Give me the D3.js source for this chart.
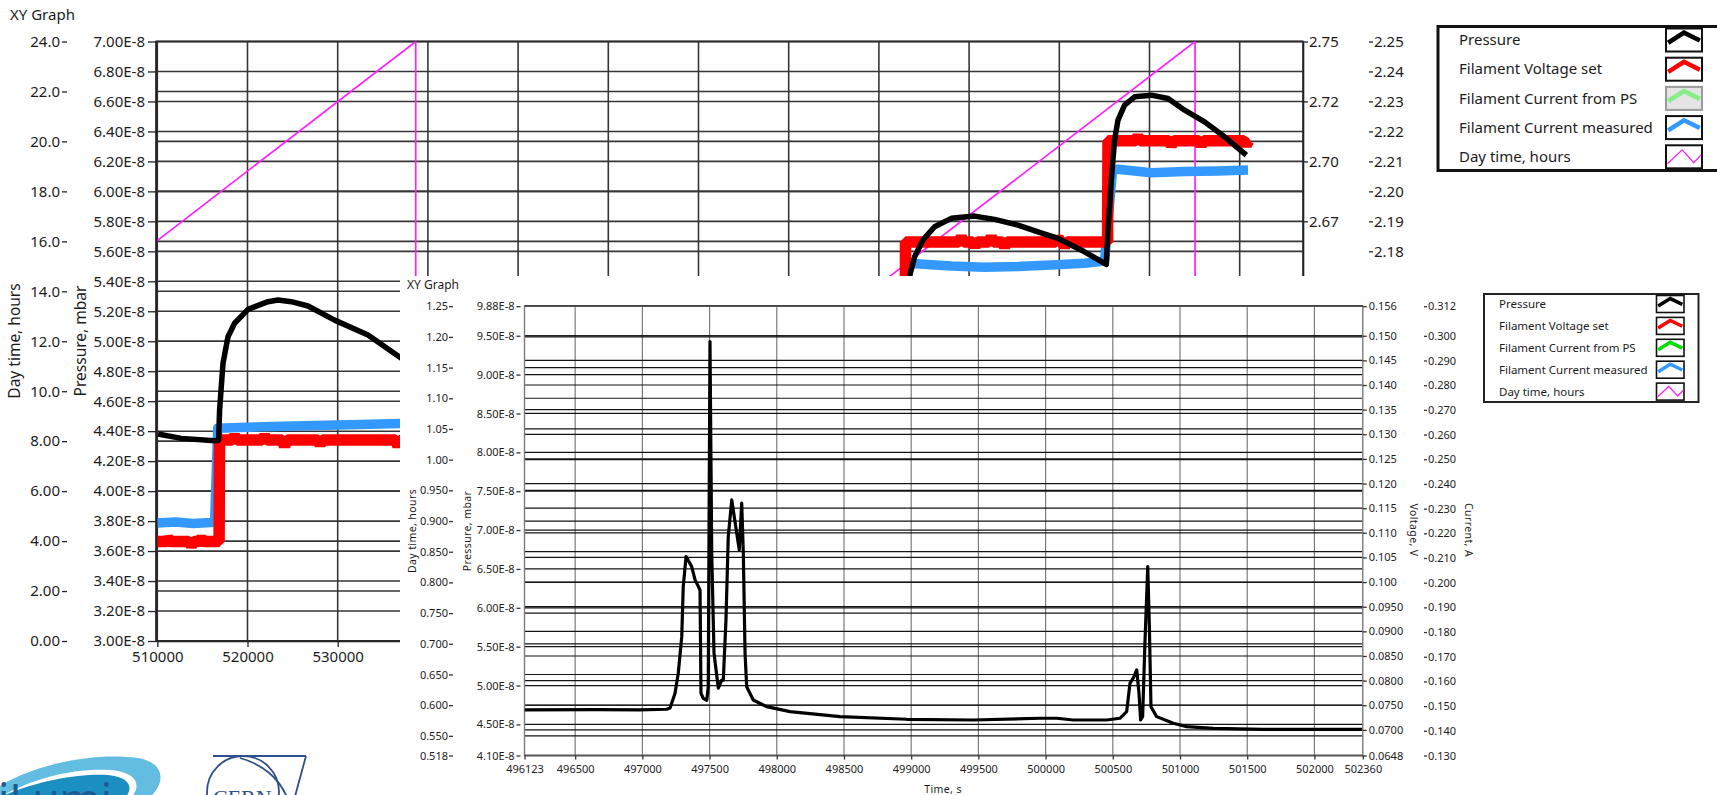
<!DOCTYPE html>
<html><head><meta charset="utf-8">
<script src="https://cdn.jsdelivr.net/npm/d3@7"></script>
<style>
html,body{margin:0;padding:0;background:#fff;overflow:hidden;}
svg{display:block;}
</style></head><body>
<svg id="c" width="1717" height="795"></svg>
<script>
// ================= DATA: top (background) XY Graph =================
const topPressureT = [510078,512661,516353,516796,516907,517284,517838,518570,520055,522273,523381,524856,526707,529656,533359,537051,560000,592950,593404,593958,594889,596175,598027,600610,602827,605421,607639,609856,612805,615211,615399,615765,616131,616508,617239,618348,620200,622051,623891,626109,628326,630732];
const topPressureV = [4.381,4.352,4.336,4.34,4.541,4.853,5.03,5.12,5.213,5.264,5.275,5.264,5.235,5.141,5.041,4.886,4.65,4.60,5.435,5.564,5.676,5.764,5.82,5.835,5.813,5.775,5.73,5.686,5.597,5.513,5.742,6.075,6.342,6.476,6.576,6.631,6.642,6.62,6.542,6.464,6.364,6.242]; // x1e-8 mbar
const topVoltageT = [510000,511000,511200,511500,513500,513770,514050,514600,514878,515150,516850,
  516900,518300,518570,518840,521630,521900,522170,523850,524114,524380,527800,528050,528300,536420,536685,536950,592900,
  592950,598860,599135,599410,600400,600650,600900,602200,602461,602720,603680,603936,604200,609600,609856,610110,610330,610588,610850,615350,
  615400,618450,618718,618990,622150,622412,622680,625480,625738,626000,630470,630732,630990];
const topVoltageV = [2.5415,2.5415,2.5428,2.5415,2.5415,2.5397,2.5415,2.5415,2.5428,2.5415,2.5415,
  2.5838,2.5838,2.5855,2.5838,2.5838,2.5855,2.5838,2.5838,2.5812,2.5838,2.5838,2.5818,2.5838,2.5838,2.5812,2.5838,2.5838,
  2.6664,2.6664,2.6685,2.6664,2.6664,2.6645,2.6664,2.6664,2.6685,2.6664,2.6664,2.6645,2.6664,2.6664,2.6683,2.6664,2.6664,2.6645,2.6664,2.6664,
  2.7086,2.7086,2.7105,2.7086,2.7086,2.7066,2.7086,2.7086,2.7066,2.7086,2.7086,2.7068,2.7086];
const topCurrentT = [510000,512000,514000,516350,516700,520000,525000,530000,537000,593100,593219,598027,601722,605421,609113,612805,615022,615900,616508,620200,623891,627594,630920];
const topCurrentV = [2.0894,2.0897,2.0892,2.0896,2.121,2.1213,2.1217,2.1221,2.1226,2.1226,2.176,2.1751,2.1747,2.1749,2.1754,2.176,2.1768,2.2069,2.2074,2.2062,2.2066,2.2068,2.2071];
const topDayT = [510000,538650,538651,625050,625051,631000];
const topDayV = [16.03,24,0,24,0,1.65];

const topXTicks = [510000,520000,530000,540000,550000,560000,570000,580000,590000,600000,610000,620000,630000];
const topDayTicks = [0,2,4,6,8,10,12,14,16,18,20,22,24];
const topDayLabels = ["0.00","2.00","4.00","6.00","8.00","10.0","12.0","14.0","16.0","18.0","20.0","22.0","24.0"];
const topPressTicks = [3.0,3.2,3.4,3.6,3.8,4.0,4.2,4.4,4.6,4.8,5.0,5.2,5.4,5.6,5.8,6.0,6.2,6.4,6.6,6.8,7.0];
const topPressLabels = ["3.00E-8","3.20E-8","3.40E-8","3.60E-8","3.80E-8","4.00E-8","4.20E-8","4.40E-8","4.60E-8","4.80E-8","5.00E-8","5.20E-8","5.40E-8","5.60E-8","5.80E-8","6.00E-8","6.20E-8","6.40E-8","6.60E-8","6.80E-8","7.00E-8"];
const topVoltTicks = [2.5,2.525,2.55,2.575,2.6,2.625,2.65,2.675,2.7,2.725,2.75];
const topVoltLabels = ["2.50","2.52","2.55","2.57","2.60","2.62","2.65","2.67","2.70","2.72","2.75"];
const topCurTicks = [2.05,2.06,2.07,2.08,2.09,2.10,2.11,2.12,2.13,2.14,2.15,2.16,2.17,2.18,2.19,2.20,2.21,2.22,2.23,2.24,2.25];
const topCurLabels = ["2.05","2.06","2.07","2.08","2.09","2.10","2.11","2.12","2.13","2.14","2.15","2.16","2.17","2.18","2.19","2.20","2.21","2.22","2.23","2.24","2.25"];

// ================= DATA: bottom (front) XY Graph =================
const botPressureT = [496123,496662,496982,497181,497206,497243,497267,497293,497304,497325,497367,497392,497429,497436,497453,497479,497490,497503,497516,497533,497565,497590,497602,497622,497639,497665,497702,497721,497739,497751,497764,497776,497825,497925,498098,498470,498967,499462,499958,500083,500206,500454,500553,500603,500628,500652,500678,500695,500707,500722,500739,500760,500772,500784,500826,500950,501050,501248,501620,502190,502354];
const botPressureV = [4.686,4.69,4.686,4.695,4.71,4.90,5.158,5.629,6.272,6.659,6.53,6.359,6.23,4.90,4.836,4.81,4.98,9.426,6.70,5.415,4.965,5.07,5.07,5.844,6.916,7.388,6.96,6.745,7.346,6.70,5.415,4.985,4.814,4.728,4.664,4.60,4.566,4.557,4.579,4.579,4.557,4.557,4.579,4.664,5.03,5.094,5.20,4.90,4.557,4.60,5.544,6.53,5.758,4.728,4.60,4.514,4.471,4.45,4.437,4.437,4.435];

const botXTicks = [496123,496500,497000,497500,498000,498500,499000,499500,500000,500500,501000,501500,502000,502360];
const botXLabels = ["496123","496500","497000","497500","498000","498500","499000","499500","500000","500500","501000","501500","502000","502360"];
const botDayTicks = [0.518,0.55,0.60,0.65,0.70,0.75,0.80,0.85,0.90,0.95,1.00,1.05,1.10,1.15,1.20,1.25];
const botDayLabels = ["0.518","0.550","0.600","0.650","0.700","0.750","0.800","0.850","0.900","0.950","1.00","1.05","1.10","1.15","1.20","1.25"];
const botPressTicks = [4.10,4.50,5.00,5.50,6.00,6.50,7.00,7.50,8.00,8.50,9.00,9.50,9.88];
const botPressLabels = ["4.10E-8","4.50E-8","5.00E-8","5.50E-8","6.00E-8","6.50E-8","7.00E-8","7.50E-8","8.00E-8","8.50E-8","9.00E-8","9.50E-8","9.88E-8"];
const botVoltTicks = [0.0648,0.07,0.075,0.08,0.085,0.09,0.095,0.10,0.105,0.11,0.115,0.12,0.125,0.13,0.135,0.14,0.145,0.15,0.156];
const botVoltLabels = ["0.0648","0.0700","0.0750","0.0800","0.0850","0.0900","0.0950","0.100","0.105","0.110","0.115","0.120","0.125","0.130","0.135","0.140","0.145","0.150","0.156"];
const botCurTicks = [0.130,0.14,0.15,0.16,0.17,0.18,0.19,0.20,0.21,0.22,0.23,0.24,0.25,0.26,0.27,0.28,0.29,0.30,0.312];
const botCurLabels = ["0.130","0.140","0.150","0.160","0.170","0.180","0.190","0.200","0.210","0.220","0.230","0.240","0.250","0.260","0.270","0.280","0.290","0.300","0.312"];

const legendNames = ["Pressure","Filament Voltage set","Filament Current from PS","Filament Current measured","Day time, hours"];
const legendColors = ["#000000","#ff0000","#00dd00","#3399ff","#ff22ff"];

// ================= DRAWING =================
const FONT = '"Noto Sans","Open Sans",sans-serif';
const svg = d3.select("#c");
svg.append("rect").attr("width",1717).attr("height",795).attr("fill","#fff");

// region of the top graph that is hidden behind the front panel
const COVER = {x:400, y:276};

function drawAxis(parent, gen, tx, ty, vals, labels, tick, pad, fs, domain, stroke, keep){
  const idx = vals.map((v,i)=>i).filter(i=>!keep || keep(vals[i]));
  const g = parent.append("g").attr("transform",`translate(${tx},${ty})`)
    .call(gen.tickValues(idx.map(i=>vals[i])).tickFormat((d,j)=>labels[idx[j]]).tickSize(tick).tickPadding(pad).tickSizeOuter(0));
  g.attr("font-size",fs).attr("font-family",FONT);
  g.selectAll("text").attr("fill","#1c1c1c");
  g.selectAll(".tick line").attr("stroke",stroke).attr("stroke-width",1.3);
  if(!domain) g.select(".domain").remove();
  else g.select(".domain").attr("stroke",stroke).attr("stroke-width",1.6);
  return g;
}
function seriesPath(xs, ys, T, V){
  return d3.line().x((d,i)=>xs(T[i])).y((d,i)=>ys(V[i]))(T);
}

// ---------- top graph ----------
const TP = {l:156, r:1303, t:41.5, b:641};
const xTop = d3.scaleLinear([509856,637018],[TP.l,TP.r]);
const yDayTop = d3.scaleLinear([0,24],[TP.b,TP.t]);
const yPTop = d3.scaleLinear([3.0,7.0],[TP.b,TP.t]);
const yVTop = d3.scaleLinear([2.5,2.75],[TP.b,TP.t]);
const yITop = d3.scaleLinear([2.05,2.25],[TP.b,TP.t]);

const gTop = svg.append("g");
gTop.append("text").attr("x",10).attr("y",20).attr("font-size",15).attr("font-family",FONT).attr("fill","#1c1c1c").text("XY Graph");

svg.append("clipPath").attr("id","cpTop").append("rect").attr("x",TP.l).attr("y",TP.t).attr("width",TP.r-TP.l).attr("height",TP.b-TP.t);
const gridT = gTop.append("g").attr("stroke","#363636").attr("stroke-width",1.6);
topPressTicks.forEach(v=>gridT.append("line").attr("x1",TP.l).attr("x2",TP.r).attr("y1",yPTop(v)).attr("y2",yPTop(v)));
topDayTicks.forEach(v=>gridT.append("line").attr("x1",TP.l).attr("x2",TP.r).attr("y1",yDayTop(v)).attr("y2",yDayTop(v)));
topXTicks.forEach(v=>gridT.append("line").attr("x1",xTop(v)).attr("x2",xTop(v)).attr("y1",TP.t).attr("y2",TP.b));
gTop.append("rect").attr("x",TP.l).attr("y",TP.t).attr("width",TP.r-TP.l).attr("height",TP.b-TP.t).attr("fill","none").attr("stroke","#2a2a2a").attr("stroke-width",1.6);

const dataT = gTop.append("g").attr("clip-path","url(#cpTop)").attr("fill","none").attr("stroke-linecap","butt");
dataT.append("path").attr("d",seriesPath(xTop,yDayTop,topDayT,topDayV)).attr("stroke","#ff22ff").attr("stroke-width",1.7).attr("stroke-linejoin","round");
dataT.append("path").attr("d",seriesPath(xTop,yITop,topCurrentT,topCurrentV)).attr("stroke","#3399ff").attr("stroke-width",9.5).attr("stroke-linejoin","round");
dataT.append("path").attr("d",seriesPath(xTop,yVTop,topVoltageT,topVoltageV)).attr("stroke","#ff0000").attr("stroke-width",11.5).attr("stroke-linejoin","bevel");
dataT.append("path").attr("d",seriesPath(xTop,yPTop,topPressureT,topPressureV)).attr("stroke","#000").attr("stroke-width",5.5).attr("stroke-linejoin","round");

drawAxis(gTop, d3.axisLeft(yDayTop), 67, 0, topDayTicks, topDayLabels, 5, 2, 15, false, "#222");
drawAxis(gTop, d3.axisLeft(yPTop), TP.l, 0, topPressTicks, topPressLabels, 8, 3, 15, true, "#222");
drawAxis(gTop, d3.axisRight(yVTop), TP.r, 0, topVoltTicks, topVoltLabels, 5, 1, 15, true, "#222", v=>yVTop(v) < COVER.y-4);
drawAxis(gTop, d3.axisRight(yITop), 1369, 0, topCurTicks, topCurLabels, 4, 1, 15, false, "#222", v=>yITop(v) < COVER.y-4);
drawAxis(gTop, d3.axisBottom(xTop), 0, TP.b, topXTicks, topXTicks.map(String), 6, 4, 15, true, "#222", v=>xTop(v) < COVER.x-20);

gTop.append("text").attr("transform","translate(20,341) rotate(-90)").attr("text-anchor","middle").attr("font-size",15.5).attr("font-family",FONT).attr("fill","#1c1c1c").text("Day time, hours");
gTop.append("text").attr("transform","translate(86,341) rotate(-90)").attr("text-anchor","middle").attr("font-size",15.5).attr("font-family",FONT).attr("fill","#1c1c1c").text("Pressure, mbar");

function swatch(g, x, y, w, h, i, big, greyed){
  g.append("rect").attr("x",x).attr("y",y).attr("width",w).attr("height",h)
    .attr("fill",greyed?"#e4e4e4":"#fff").attr("stroke",greyed?"#9a9a9a":"#111").attr("stroke-width",big?2:1.6);
  let pts;
  if(i===4) pts=[[0.04,0.8],[0.45,0.2],[0.77,0.76],[0.97,0.42]];
  else pts=[[0.06,0.62],[0.5,0.18],[0.94,0.52]];
  g.append("path").attr("d",d3.line()(pts.map(p=>[x+p[0]*w,y+p[1]*h])))
    .attr("fill","none").attr("stroke",greyed?"#86ee86":legendColors[i])
    .attr("stroke-width",i===4?1.3:(big?4.5:3.5)).attr("stroke-linejoin","miter");
}
const lgT = gTop.append("g");
lgT.append("rect").attr("x",1438).attr("y",26.5).attr("width",300).attr("height",144).attr("fill","#fff").attr("stroke","#111").attr("stroke-width",3);
legendNames.forEach((n,i)=>{
  const cy = 40 + i*29.2;
  lgT.append("text").attr("x",1459).attr("y",cy).attr("dy","0.35em").attr("font-size",15).attr("font-family",FONT).attr("fill","#1c1c1c").text(n);
  swatch(lgT, 1666, cy-11.5, 36, 23, i, true, i===2);
});

// ---------- bottom panel (covers part of the top graph) ----------
const gBot = svg.append("g");
gBot.append("rect").attr("x",COVER.x).attr("y",COVER.y).attr("width",1717-COVER.x).attr("height",795-COVER.y).attr("fill","#fff");
gBot.append("text").attr("x",407).attr("y",285).attr("dy","0.35em").attr("font-size",12).attr("font-family",FONT).attr("fill","#1c1c1c").text("XY Graph");

const BP = {l:524.5, r:1362.8, t:306.2, b:755.5};
const xBot = d3.scaleLinear([496123,502360],[BP.l,BP.r]);
const yPBot = d3.scaleLinear([4.10,9.88],[BP.b,BP.t]);
const yDayBot = d3.scaleLinear([0.518,1.25],[BP.b,BP.t]);
const yVBot = d3.scaleLinear([0.0648,0.156],[BP.b,BP.t]);
const yIBot = d3.scaleLinear([0.130,0.312],[BP.b,BP.t]);

const gridB = gBot.append("g");
botXTicks.slice(1,-1).forEach(v=>gridB.append("line").attr("x1",xBot(v)).attr("x2",xBot(v)).attr("y1",BP.t).attr("y2",BP.b).attr("stroke","#7c7c7c").attr("stroke-width",1.2));
const hl = (y)=>gridB.append("line").attr("x1",BP.l).attr("x2",BP.r).attr("y1",y).attr("y2",y).attr("stroke","#141414").attr("stroke-width",1.2);
botPressTicks.forEach(v=>hl(yPBot(v)));
botDayTicks.forEach(v=>hl(yDayBot(v)));
botVoltTicks.forEach(v=>hl(yVBot(v)));
gBot.append("line").attr("x1",BP.l).attr("x2",BP.l).attr("y1",BP.t).attr("y2",BP.b).attr("stroke","#7c7c7c").attr("stroke-width",1.4);
gBot.append("line").attr("x1",BP.r).attr("x2",BP.r).attr("y1",BP.t).attr("y2",BP.b).attr("stroke","#7c7c7c").attr("stroke-width",1.4);
gBot.append("line").attr("x1",BP.l).attr("x2",BP.r).attr("y1",BP.b).attr("y2",BP.b).attr("stroke","#555").attr("stroke-width",1.8);
gBot.append("line").attr("x1",BP.l).attr("x2",BP.r).attr("y1",BP.t).attr("y2",BP.t).attr("stroke","#555").attr("stroke-width",1.4);

svg.append("clipPath").attr("id","cpBot").append("rect").attr("x",BP.l).attr("y",BP.t).attr("width",BP.r-BP.l).attr("height",BP.b-BP.t);
gBot.append("g").attr("clip-path","url(#cpBot)").append("path")
  .attr("d",seriesPath(xBot,yPBot,botPressureT,botPressureV))
  .attr("fill","none").attr("stroke","#000").attr("stroke-width",3.2).attr("stroke-linejoin","round");

drawAxis(gBot, d3.axisLeft(yDayBot), 453, 0, botDayTicks, botDayLabels, 4, 1, 11, false, "#333");
drawAxis(gBot, d3.axisLeft(yPBot), 520.5, 0, botPressTicks, botPressLabels, 4, 2, 11, false, "#333");
drawAxis(gBot, d3.axisRight(yVBot), BP.r, 0, botVoltTicks, botVoltLabels, 4, 2, 11, false, "#333");
drawAxis(gBot, d3.axisRight(yIBot), 1424, 0, botCurTicks, botCurLabels, 3, 1, 11, false, "#333");
drawAxis(gBot, d3.axisBottom(xBot), 0, BP.b, botXTicks, botXLabels, 4, 6, 11, false, "#333");

const smallLbl = (x,y,rot,t)=>gBot.append("text").attr("transform",`translate(${x},${y}) rotate(${rot})`).attr("text-anchor","middle").attr("dy","0.35em")
  .attr("font-size",10.5).attr("letter-spacing","0.4px").attr("font-family",FONT).attr("fill","#1c1c1c").text(t);
smallLbl(412,531,-90,"Day time, hours");
smallLbl(467,531,-90,"Pressure, mbar");
smallLbl(1413.5,530,90,"Voltage, V");
smallLbl(1468.5,530,90,"Current, A");
smallLbl(943,789,0,"Time, s");

const lgB = gBot.append("g");
lgB.append("rect").attr("x",1484).attr("y",294).attr("width",214.5).attr("height",108).attr("fill","#fff").attr("stroke","#222").attr("stroke-width",2);
legendNames.forEach((n,i)=>{
  const cy = 304 + i*21.9;
  lgB.append("text").attr("x",1499).attr("y",cy).attr("dy","0.35em").attr("font-size",11.5).attr("font-family",FONT).attr("fill","#1c1c1c").text(n);
  swatch(lgB, 1656.5, cy-8.5, 27.5, 17, i, false, false);
});

// ---------- logos (bottom-left, cut by window edge) ----------
const logo = svg.append("g");
logo.append("path").attr("d","M0,786 C35,764 95,752 138,758 C165,763 166,782 150,797 L132,797 C142,784 136,772 110,770 C70,768 30,780 0,797 Z").attr("fill","#62bde0");
logo.append("path").attr("d","M0,797 C38,780 82,773 108,775 C128,777 134,786 126,797 Z").attr("fill","#1b8ec2");
logo.append("text").attr("x",-2).attr("y",815).attr("font-size",44).attr("font-family",FONT).attr("fill","#1e5a94").text("iLumi");
logo.append("circle").attr("cx",243).attr("cy",792).attr("r",36).attr("fill","none").attr("stroke","#2f4f8c").attr("stroke-width",1.8);
logo.append("path").attr("d","M213,756 L306,756 M240,758 C262,764 280,778 288,800 M306,756 L294,800").attr("fill","none").attr("stroke","#2f4f8c").attr("stroke-width",1.8);
logo.append("text").attr("x",213).attr("y",805).attr("font-size",22).attr("font-family","Liberation Serif, serif").attr("fill","#2f4f8c").text("CERN");
</script>
</body></html>
